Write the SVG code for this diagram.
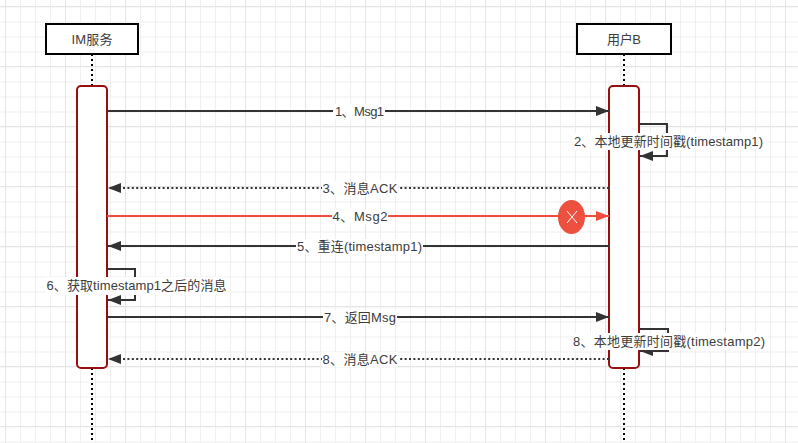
<svg xmlns="http://www.w3.org/2000/svg" width="798" height="443" viewBox="0 0 798 443">
<defs>
<pattern id="minor" width="15" height="15" patternUnits="userSpaceOnUse" x="5" y="6.5"><path d="M0.5 0V15M0 0.5H15" fill="none" stroke="#efefef" stroke-width="1"/></pattern>
<pattern id="major" width="60" height="60" patternUnits="userSpaceOnUse" x="5" y="6"><path d="M0.5 0V60M0 0.5H60" fill="none" stroke="#e4e4e4" stroke-width="1"/></pattern>
<marker id="ah" markerUnits="userSpaceOnUse" markerWidth="14" markerHeight="10" refX="13" refY="5" orient="auto"><path d="M0 0L13 5L0 10Z" fill="#333"/></marker>
<marker id="ahr" markerUnits="userSpaceOnUse" markerWidth="14" markerHeight="10" refX="13" refY="5" orient="auto"><path d="M0 0L13 5L0 10Z" fill="#f44b3e"/></marker>
</defs>
<style>
text{font-family:"Liberation Sans","Noto Sans CJK SC",sans-serif;font-size:13px;fill:#3c3c3c;text-anchor:middle}
.head{fill:#fff;stroke:#000;stroke-width:2}
.life{stroke:#000;stroke-width:2;stroke-dasharray:2 3;fill:none}
.act{fill:#fff;stroke:#990f0f;stroke-width:2}
.c{fill:none;stroke:#333;stroke-width:2}
.d{stroke-dasharray:2 2.4}
.s{marker-end:url(#ah)}
.lbl{fill:#fff}
</style>
<rect width="798" height="443" fill="#fff"/>
<rect width="798" height="443" fill="url(#minor)"/>
<rect width="798" height="443" fill="url(#major)"/>
<g id="lifelines">
<path class="life" d="M92 54V86M92 368V443"/>
<path class="life" d="M624 54V86M624 368V443"/>
</g>
<g id="node-im"><rect class="head" x="46" y="24" width="92" height="30"/><text x="92" y="44" textLength="41">IM服务</text></g>
<g id="node-userb"><rect class="head" x="577" y="24" width="94" height="30"/><text x="624" y="44" textLength="34">用户B</text></g>
<g id="activation-im"><rect class="act" x="77" y="86" width="30" height="282" rx="4"/></g>
<g id="activation-userb"><rect class="act" x="609" y="86" width="30" height="282" rx="4"/></g>
<g id="connectors">
<path class="c s" d="M107 111H609"/>
<path class="c s" d="M639 124H667V156H640"/>
<path class="c d s" d="M609 188H108"/>
<path d="M107 216H609" fill="none" stroke="#f44b3e" stroke-width="2" marker-end="url(#ahr)"/>
<path class="c s" d="M609 246H108"/>
<path class="c s" d="M107 269H135V300H108"/>
<path class="c s" d="M107 317H609"/>
<path class="c s" d="M639 329H668V351H640"/>
<path class="c d s" d="M609 359H108"/>
</g>
<g id="label-1"><rect class="lbl" x="333" y="104" width="52" height="15"/><text x="359.500" y="116" textLength="49">1、Msg1</text></g>
<g id="label-2"><rect class="lbl" x="573" y="133" width="192" height="17"/><text x="668.500" y="146" textLength="189">2、本地更新时间戳(timestamp1)</text></g>
<g id="label-3"><rect class="lbl" x="322" y="181" width="76" height="15"/><text x="360" y="193" textLength="75">3、消息ACK</text></g>
<g id="label-4"><rect class="lbl" x="332" y="209" width="56" height="15"/><text x="360" y="221" textLength="55">4、Msg2</text></g>
<g id="label-5"><rect class="lbl" x="296" y="239" width="127" height="15"/><text x="359.500" y="251" textLength="125">5、重连(timestamp1)</text></g>
<g id="label-6"><rect class="lbl" x="46" y="277" width="181" height="18"/><text x="136.500" y="290" textLength="180">6、获取timestamp1之后的消息</text></g>
<g id="label-7"><rect class="lbl" x="323" y="310" width="74" height="15"/><text x="360" y="322" textLength="72">7、返回Msg</text></g>
<g id="label-8"><rect class="lbl" x="572" y="333" width="196" height="17"/><text x="669" y="346" textLength="192">8、本地更新时间戳(timestamp2)</text></g>
<g id="label-9"><rect class="lbl" x="322" y="352" width="76" height="15"/><text x="360" y="364" textLength="75">8、消息ACK</text></g>
<g id="node-error"><ellipse cx="571.500" cy="217" rx="13.500" ry="17" fill="#ee5040"/><path d="M567 211L577 223M577 211L567 223" stroke="#fff" stroke-width="1" fill="none"/></g>
</svg>
